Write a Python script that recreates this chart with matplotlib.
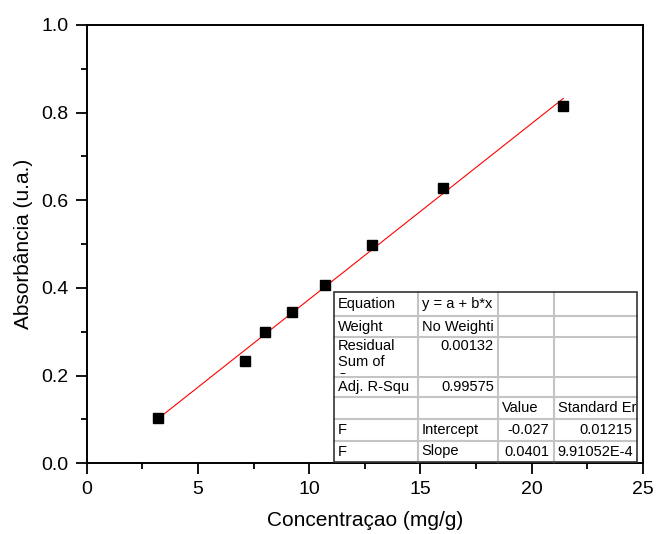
import numpy as np
import matplotlib
matplotlib.use("Agg")
import matplotlib.pyplot as plt
from matplotlib.patches import Rectangle
from matplotlib.ticker import MultipleLocator
from matplotlib.transforms import Bbox, TransformedBbox

plt.rcParams["font.family"] = ["Liberation Sans", "DejaVu Sans"]

# data
conc = [3.22, 7.12, 8.02, 9.22, 10.73, 12.81, 16.03, 21.43]
absorb = [0.104, 0.233, 0.299, 0.346, 0.407, 0.499, 0.629, 0.816]

# fit results as printed in the table
intercept = -0.027
slope = 0.0401

table_rows = [
    ["Equation", "y = a + b*x", "", ""],
    ["Weight", "No Weighti", "", ""],
    ["Residual\nSum of\nSquares", "0.00132", "", ""],
    ["Adj. R-Squ", "0.99575", "", ""],
    ["", "", "Value", "Standard Er"],
    ["F", "Intercept", "-0.027", "0.01215"],
    ["F", "Slope", "0.0401", "9.91052E-4"],
]
# alignment of each cell: l = left, r = right
table_align = [
    ["l", "l", "l", "l"],
    ["l", "l", "l", "l"],
    ["l", "r", "l", "l"],
    ["l", "r", "l", "l"],
    ["l", "l", "l", "l"],
    ["l", "l", "r", "r"],
    ["l", "l", "r", "l"],
]
tall_row = 2  # the row whose text hangs from the top and is cut at the bottom

W, H = 656, 534
fig = plt.figure(figsize=(W / 100, H / 100), dpi=100)
ax0, ax1, ay0, ay1 = 86.7, 642.7, 463.3, 25.0
ax = fig.add_axes([ax0 / W, 1 - ay0 / H, (ax1 - ax0) / W, (ay0 - ay1) / H])

x_line = np.array([min(conc), max(conc)])
ax.plot(x_line, intercept + slope * x_line, color="red", lw=0.8, zorder=2)
ax.plot(conc, absorb, ls="none", marker="s", ms=7.2, color="black", zorder=3)

ax.set_xlim(0, 25)
ax.set_ylim(0, 1.0)
ax.xaxis.set_major_locator(MultipleLocator(5))
ax.xaxis.set_minor_locator(MultipleLocator(2.5))
ax.yaxis.set_major_locator(MultipleLocator(0.2))
ax.yaxis.set_minor_locator(MultipleLocator(0.1))
ax.yaxis.set_major_formatter(matplotlib.ticker.FormatStrFormatter("%.1f"))
ax.tick_params(which="major", direction="out", length=8, width=1.3, labelsize=14, pad=5,
               top=False, right=False)
ax.tick_params(which="minor", direction="out", length=4.5, width=1.3, top=False, right=False)
for s in ax.spines.values():
    s.set_linewidth(1.4)

ax.set_xlabel("Concentraçao (mg/g)", fontsize=15, labelpad=9)
ax.set_ylabel("Absorbância (u.a.)", fontsize=15, labelpad=6)

# fit table, laid out in pixels then mapped to axes coords
col_w = [84.3, 80.0, 55.7, 83.3]
row_h = [24.0, 21.6, 39.4, 20.6, 21.7, 21.7, 21.6]
tx0, ty0 = 334.0, 291.7


def to_ax(px, py):
    return (px - ax0) / (ax1 - ax0), (ay0 - py) / (ay0 - ay1)


tw, th = sum(col_w), sum(row_h)
bx, by = to_ax(tx0, ty0 + th)
bw = tw / (ax1 - ax0)
bh = th / (ay0 - ay1)
ax.add_patch(Rectangle((bx, by), bw, bh, transform=ax.transAxes, facecolor="white",
                       edgecolor="none", zorder=5, clip_on=False))

xs = np.concatenate([[tx0], tx0 + np.cumsum(col_w)])
ys = np.concatenate([[ty0], ty0 + np.cumsum(row_h)])
for x in xs[1:-1]:
    ax.plot(*zip(to_ax(x, ys[0]), to_ax(x, ys[-1])), transform=ax.transAxes,
            color="#c4c4c4", lw=1.5, zorder=6, clip_on=False)
for y in ys[1:-1]:
    ax.plot(*zip(to_ax(xs[0], y), to_ax(xs[-1], y)), transform=ax.transAxes,
            color="#c4c4c4", lw=1.5, zorder=6, clip_on=False)
ax.add_patch(Rectangle((bx, by), bw, bh, transform=ax.transAxes, facecolor="none",
                       edgecolor="#333333", lw=1.2, zorder=7, clip_on=False))

for i, row in enumerate(table_rows):
    for j, txt in enumerate(row):
        if not txt:
            continue
        if table_align[i][j] == "l":
            px, ha = xs[j] + 3.5, "left"
        else:
            px, ha = xs[j + 1] - 4.5, "right"
        if i == tall_row:
            py, va = ys[i] + 1.5, "top"
        else:
            py, va = (ys[i] + ys[i + 1]) / 2, "center"
        cx, cy = to_ax(px, py)
        t = ax.text(cx, cy, txt, transform=ax.transAxes, ha=ha, va=va, fontsize=10.5,
                    linespacing=1.22, zorder=8)
        # Agg clips text only to a box, so cut each text at its cell edges
        (c0x, c0y), (c1x, c1y) = to_ax(xs[j], ys[i + 1] - 3), to_ax(xs[j + 1], ys[i])
        t.set_clip_path(None)
        t.set_clip_box(TransformedBbox(Bbox([[c0x, c0y], [c1x, c1y]]), ax.transAxes))
        t.set_clip_on(True)

fig.savefig("out.png", dpi=100)
